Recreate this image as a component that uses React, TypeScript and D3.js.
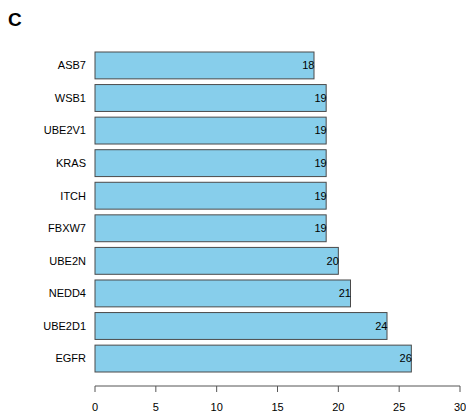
import React from "react";
import * as d3 from "d3";

const genes = ["ASB7", "WSB1", "UBE2V1", "KRAS", "ITCH", "FBXW7", "UBE2N", "NEDD4", "UBE2D1", "EGFR"];
const counts = [18, 19, 19, 19, 19, 19, 20, 21, 24, 26];
const xTicks = [0, 5, 10, 15, 20, 25, 30];

const W = 466;
const H = 414;
const FONT = "Liberation Sans, Arial, sans-serif";

export default function App() {
  const x = d3.scaleLinear().domain([0, 30]).range([95, 460]);
  const y = d3
    .scaleBand<string>()
    .domain(genes)
    .range([52, 372])
    .paddingInner(0.175)
    .paddingOuter(0);
  const axisY = 386;

  return (
    <svg
      width={W}
      height={H}
      style={{ position: "absolute", left: 0, top: 0, background: "#fff" }}
      fontFamily={FONT}
    >
      <text x={8} y={26} fontSize={19} fontWeight="bold" fill="#000">
        C
      </text>
      {genes.map((g, i) => {
        const y0 = y(g)!;
        const bw = y.bandwidth();
        return (
          <g key={g}>
            <rect
              x={x(0)}
              y={y0}
              width={x(counts[i]) - x(0)}
              height={bw}
              fill="#87CEEB"
              stroke="#4a4a4a"
              strokeWidth={1}
            />
            <text
              x={x(0) - 9}
              y={y0 + bw / 2}
              dy="0.35em"
              textAnchor="end"
              fontSize={11}
              fill="#000"
            >
              {g}
            </text>
            <text
              x={x(counts[i]) + 0.5}
              y={y0 + bw / 2}
              dy="0.35em"
              textAnchor="end"
              fontSize={11}
              fill="#000"
            >
              {counts[i]}
            </text>
          </g>
        );
      })}
      <g>
        <line x1={x(0)} x2={x(30)} y1={axisY} y2={axisY} stroke="#555" strokeWidth={1} />
        {xTicks.map((t) => (
          <g key={t}>
            <line x1={x(t)} x2={x(t)} y1={axisY} y2={axisY + 6} stroke="#555" strokeWidth={1} />
            <text x={x(t)} y={411} textAnchor="middle" fontSize={11} fill="#000">
              {t}
            </text>
          </g>
        ))}
      </g>
    </svg>
  );
}
